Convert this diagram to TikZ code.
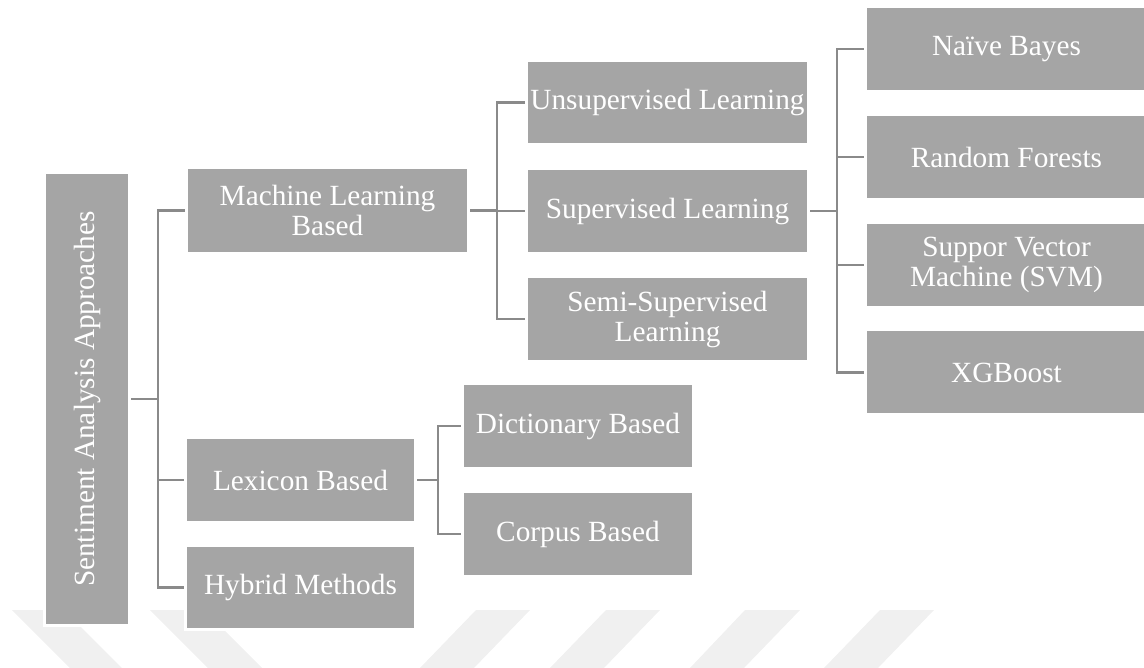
\documentclass[tikz,border=0pt]{standalone}
\usepackage{fontspec}
\setmainfont{Liberation Serif}
\usetikzlibrary{backgrounds}
\definecolor{boxgray}{HTML}{A5A5A5}
\definecolor{linegray}{HTML}{8A8A8A}
\definecolor{markgray}{HTML}{F0F0F0}
\begin{document}
\begin{tikzpicture}[x=1pt,y=-1pt,
  box/.style={fill=boxgray, draw=white, line width=3pt, text=white,
    inner sep=0pt, outer sep=0pt, align=center,
    font=\fontsize{29.3}{30}\selectfont},
  conn/.style={draw=linegray, line width=2.6pt},
  stripe/.style={fill=markgray}]
\useasboundingbox (0,0) rectangle (1144,668);

% root (rotated label)
\node[box, rotate=90, minimum width=453pt, minimum height=85pt] (root) at (87,399)
  {Sentiment Analysis Approaches};

% first level
\node[box, minimum width=282pt, minimum height=86pt] (ml)  at (327.5,210.5) {Machine Learning\\Based};
\node[box, minimum width=230pt, minimum height=85pt] (lex) at (300.5,480)   {Lexicon Based};
\node[box, minimum width=230pt, minimum height=84pt] (hyb) at (300.5,587.5) {Hybrid Methods};

% machine learning children
\node[box, minimum width=282pt, minimum height=84pt] (uns)  at (667.5,102.5) {Unsupervised Learning};
\node[box, minimum width=282pt, minimum height=85pt] (sup)  at (667.5,211)   {Supervised Learning};
\node[box, minimum width=282pt, minimum height=85pt] (semi) at (667.5,319)   {Semi-Supervised\\Learning};

% lexicon children
\node[box, minimum width=231pt, minimum height=85pt] (dict) at (578,426) {Dictionary Based};
\node[box, minimum width=231pt, minimum height=85pt] (corp) at (578,534) {Corpus Based};

% supervised children
\node[box, minimum width=282pt, minimum height=85pt] (nb)  at (1006.5,49)    {Naïve Bayes};
\node[box, minimum width=282pt, minimum height=85pt] (rf)  at (1006.5,157)   {Random Forests};
\node[box, minimum width=282pt, minimum height=85pt] (svm) at (1006.5,265)   {Suppor Vector\\Machine (SVM)};
\node[box, minimum width=282pt, minimum height=85pt] (xgb) at (1006.5,372.5) {XGBoost};

\begin{pgfonlayer}{background}
  % light diagonal bands along the bottom
  \fill[stripe] (12,610) -- (64,610) -- (122,668) -- (70,668) -- cycle;
  \fill[stripe] (150,610) -- (204,610) -- (262,668) -- (208,668) -- cycle;
  \fill[stripe] (476,610) -- (530,610) -- (474,668) -- (420,668) -- cycle;
  \fill[stripe] (606,610) -- (660,610) -- (604,668) -- (550,668) -- cycle;
  \fill[stripe] (745,610) -- (800,610) -- (744,668) -- (690,668) -- cycle;
  \fill[stripe] (880,610) -- (934,610) -- (878,668) -- (824,668) -- cycle;

  % bus coordinates
  \coordinate (b0) at (158,399);
  \coordinate (b1) at (497,210.5);
  \coordinate (b2) at (837,211);
  \coordinate (b3) at (438,480);

  \draw[conn] (root.south) -- (b0) |- (ml.west);
  \draw[conn] (root.south) -- (b0) |- (lex.west);
  \draw[conn] (root.south) -- (b0) |- (hyb.west);

  \draw[conn] (ml.east) -- (b1) |- (uns.west);
  \draw[conn] (ml.east) -- (b1) |- (sup.west);
  \draw[conn] (ml.east) -- (b1) |- (semi.west);

  \draw[conn] (sup.east) -- (b2) |- (nb.west);
  \draw[conn] (sup.east) -- (b2) |- (rf.west);
  \draw[conn] (sup.east) -- (b2) |- (svm.west);
  \draw[conn] (sup.east) -- (b2) |- (xgb.west);

  \draw[conn] (lex.east) -- (b3) |- (dict.west);
  \draw[conn] (lex.east) -- (b3) |- (corp.west);
\end{pgfonlayer}
\end{tikzpicture}
\end{document}
